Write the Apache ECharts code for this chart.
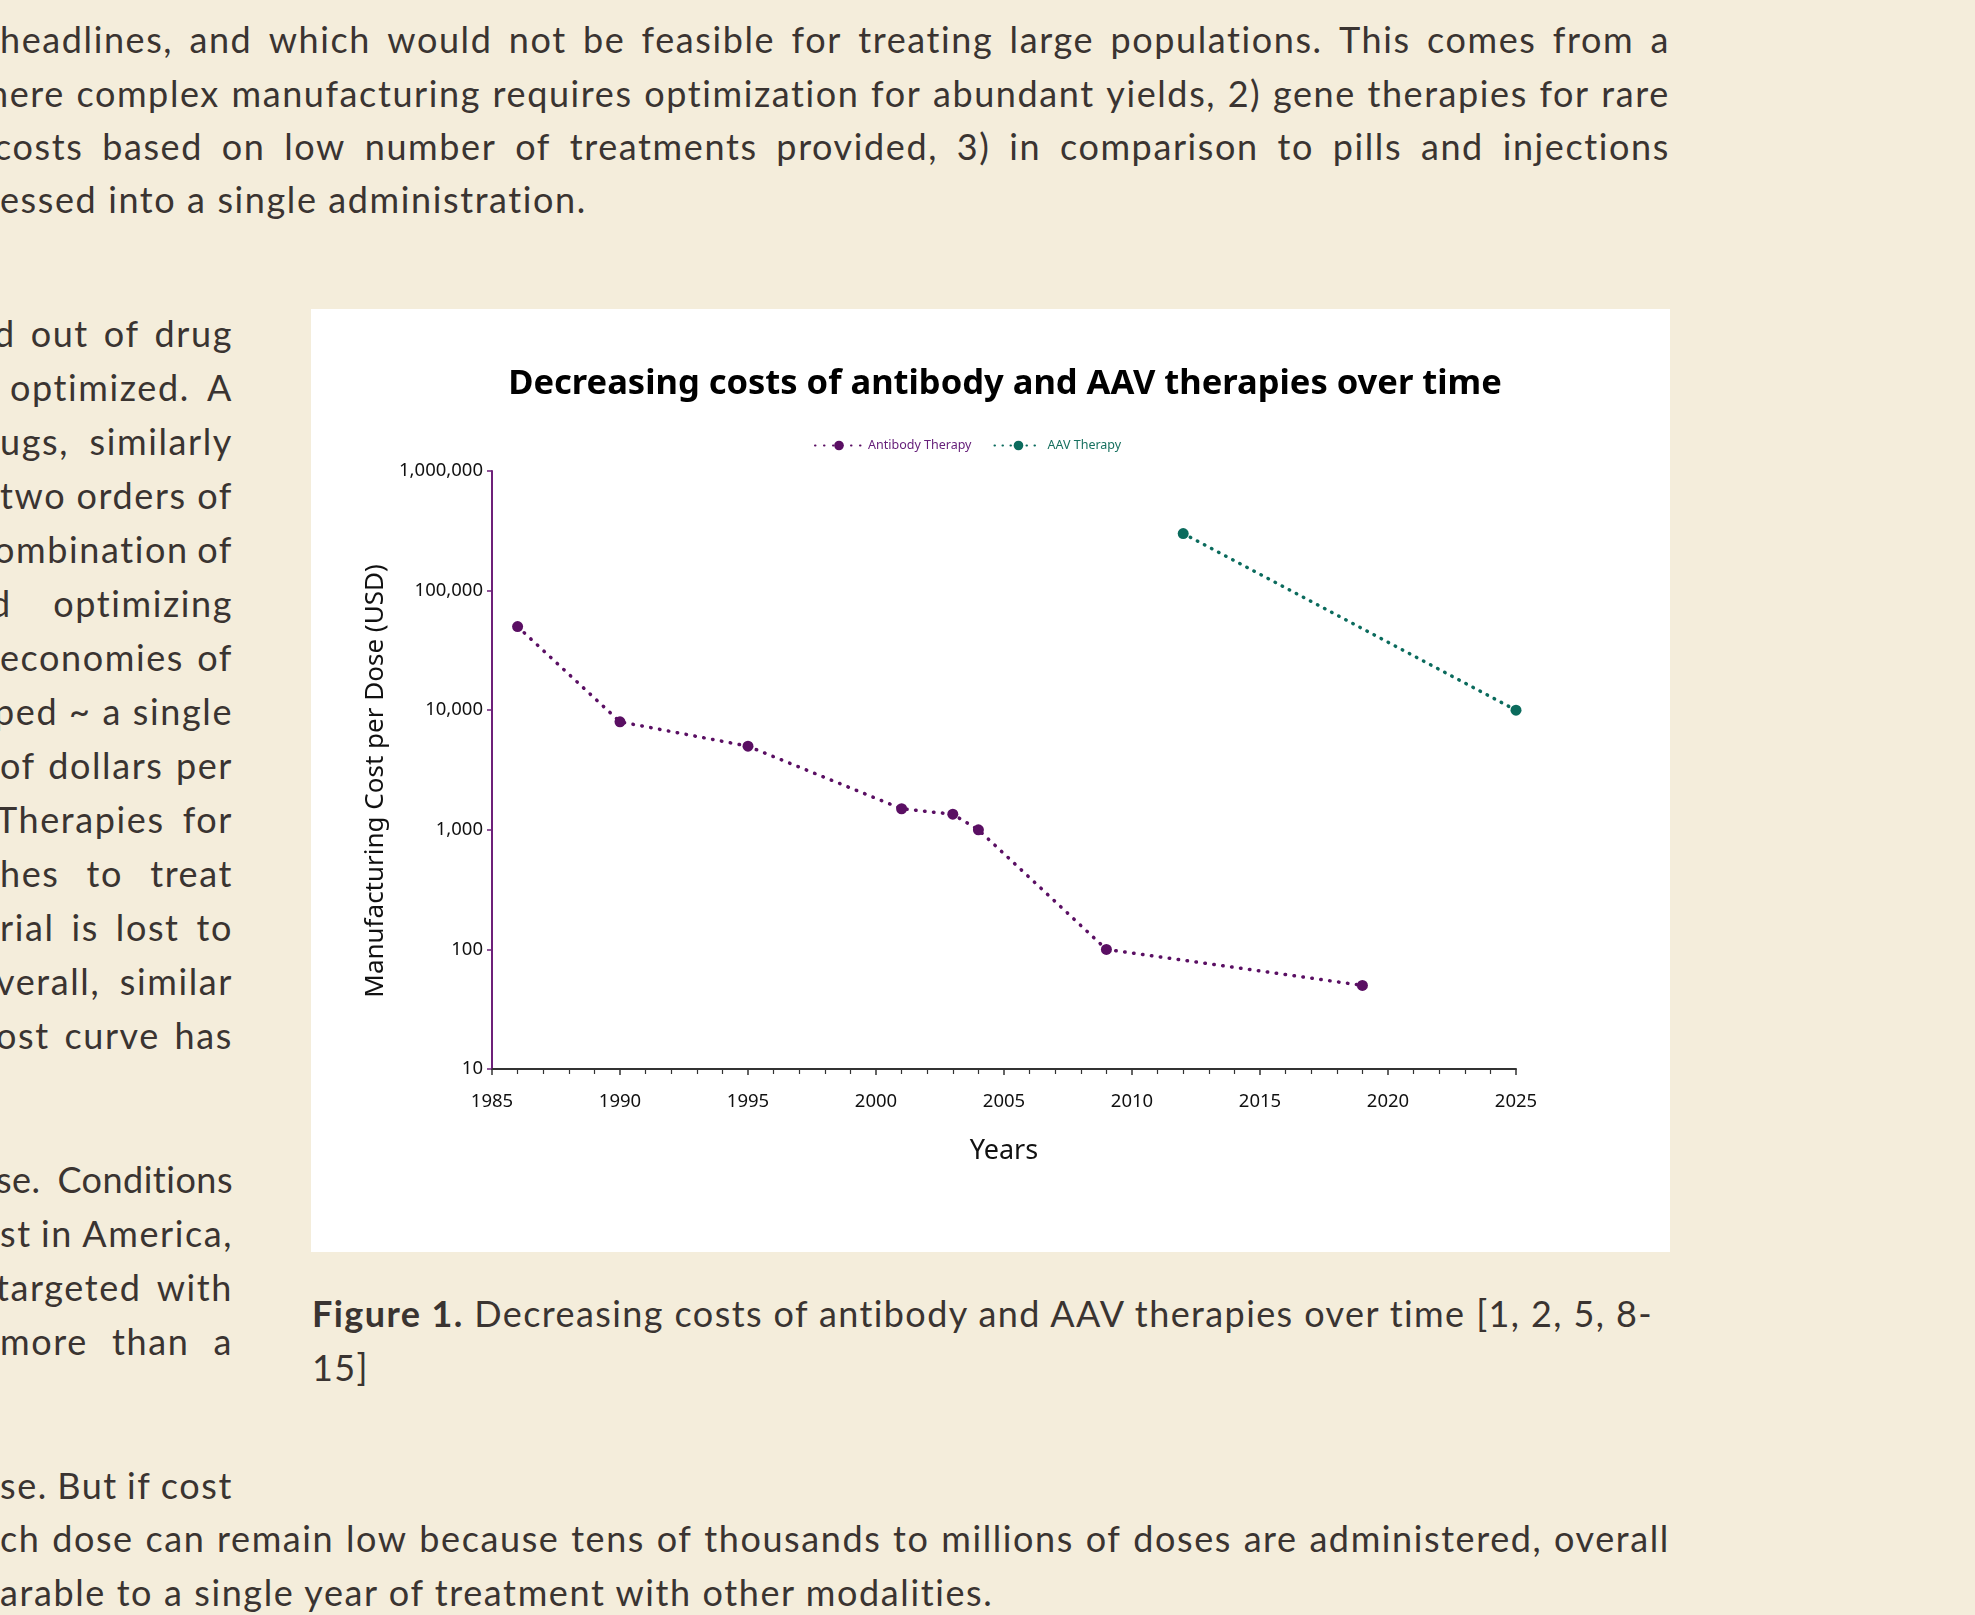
<!DOCTYPE html>
<html>
<head>
<meta charset="utf-8">
<script src="https://cdn.jsdelivr.net/npm/echarts@6/dist/echarts.min.js"></script>
<style>
  html, body { margin: 0; padding: 0; }
  body { width: 1975px; height: 1615px; background: #f4eddb; overflow: hidden; position: relative;
         font-family: Lato, "Noto Sans", sans-serif; color: #3a3431; }
  .ln { position: absolute; height: 54px; line-height: 54px; font-size: 36px; white-space: nowrap; letter-spacing: 1.6px; }
  .j { display: flex; justify-content: space-between; }
  .j span { flex: 0 0 auto; white-space: nowrap; }
  .cap { letter-spacing: 1.4px; }
  #chart { position: absolute; left: 311px; top: 309px; width: 1359px; height: 943px; background: #ffffff; }
</style>
</head>
<body>
<div class="ln j" style="left:0;width:1670px;top:12px">headlines, and which would not be feasible for treating large populations. This comes from a</div>
<div class="ln j" style="left:-12px;width:1682px;top:66px">here complex manufacturing requires optimization for abundant yields, 2) gene therapies for rare</div>
<div class="ln j" style="left:-6px;width:1676px;top:119px">costs based on low number of treatments provided, 3) in comparison to pills and injections</div>
<div class="ln" style="left:0;top:172px">essed into a single administration.</div>

<div class="ln j" style="left:-6px;width:239px;top:306px">d out of drug</div>
<div class="ln j" style="left:10px;width:223px;top:360px">optimized. A</div>
<div class="ln j" style="left:0;width:233px;top:414px">ugs, similarly</div>
<div class="ln j" style="left:0;width:233px;top:468px">two orders of</div>
<div class="ln j" style="left:-6px;width:239px;top:522px">ombination of</div>
<div class="ln j" style="left:-10px;width:243px;top:576px">d optimizing</div>
<div class="ln j" style="left:0;width:233px;top:630px">economies of</div>
<div class="ln j" style="left:-6px;width:239px;top:684px">ped ~ a single</div>
<div class="ln j" style="left:0;width:233px;top:738px">of dollars per</div>
<div class="ln j" style="left:-4px;width:237px;top:792px">Therapies for</div>
<div class="ln j" style="left:0;width:233px;top:846px">hes to treat</div>
<div class="ln j" style="left:0;width:233px;top:900px">rial is lost to</div>
<div class="ln j" style="left:-4px;width:237px;top:954px">verall, similar</div>
<div class="ln j" style="left:-4px;width:237px;top:1008px">ost curve has</div>

<div class="ln j" style="left:-4px;width:237px;top:1152px;letter-spacing:0.5px">se. Conditions</div>
<div class="ln j" style="left:0;width:233px;top:1206px">st in America,</div>
<div class="ln j" style="left:-4px;width:237px;top:1260px">targeted with</div>
<div class="ln j" style="left:0;width:233px;top:1314px">more than a</div>

<div class="ln j" style="left:0;width:233px;top:1458px">se. But if cost</div>
<div class="ln j" style="left:0;width:1670px;top:1511px">ch dose can remain low because tens of thousands to millions of doses are administered, overall</div>
<div class="ln" style="left:0;top:1565px">arable to a single year of treatment with other modalities.</div>

<div class="ln cap" style="left:312px;top:1286px"><b>Figure 1.</b> Decreasing costs of antibody and AAV therapies over time [1, 2, 5, 8-</div>
<div class="ln cap" style="left:312px;top:1340px">15]</div>

<div id="chart"></div>

<script>
// justify single page lines without wrapping
document.querySelectorAll('.j').forEach(el => {
  const words = el.textContent.trim().split(/\s+/);
  el.textContent = '';
  words.forEach(w => { const s = document.createElement('span'); s.textContent = w; el.appendChild(s); });
});

// ---- data ----
const antibodyYears = [1986, 1990, 1995, 2001, 2003, 2004, 2009, 2019];
const antibodyCost  = [50000, 8000, 5000, 1500, 1350, 1000, 100, 50];
const aavYears = [2012, 2025];
const aavCost  = [300000, 10000];
const seriesNames = ['Antibody Therapy', 'AAV Therapy'];
const chartTitle = 'Decreasing costs of antibody and AAV therapies over time';
const xAxisName = 'Years';
const yAxisName = 'Manufacturing Cost per Dose (USD)';

const purple = '#5a0f63';
const teal = '#0b6b5d';
const pair = (xs, ys) => xs.map((x, i) => [x, ys[i]]);

const chart = echarts.init(document.getElementById('chart'), null, { renderer: 'canvas' });
chart.setOption({
  backgroundColor: '#ffffff',
  animation: false,
  title: {
    text: chartTitle,
    left: 689,
    textAlign: 'center',
    top: 53,
    textStyle: { fontFamily: 'Noto Sans', fontWeight: 'bold', fontSize: 34.5, color: '#000000' }
  },
  legend: {
    left: 498,
    top: 125,
    itemWidth: 48,
    itemHeight: 12,
    itemGap: 22,
    textStyle: { fontFamily: 'Noto Sans', fontSize: 12.5 },
    data: [
      { name: seriesNames[0], textStyle: { color: '#66207a' } },
      { name: seriesNames[1], textStyle: { color: '#17705f' } }
    ]
  },
  grid: { left: 181, top: 162, width: 1024, height: 598, containLabel: false },
  xAxis: {
    type: 'value',
    min: 1985,
    max: 2025,
    interval: 5,
    name: xAxisName,
    nameLocation: 'middle',
    nameGap: 69,
    nameTextStyle: { fontFamily: 'Noto Sans', fontSize: 27, color: '#111111' },
    axisLine: { show: true, lineStyle: { color: '#333333', width: 2 } },
    axisTick: { show: true, length: 6, lineStyle: { color: '#333333', width: 1.5 } },
    minorTick: { show: true, splitNumber: 5, length: 5, lineStyle: { color: '#333333', width: 1.2 } },
    splitLine: { show: false },
    minorSplitLine: { show: false },
    axisLabel: { margin: 23, fontFamily: 'Noto Sans', fontSize: 18.5, color: '#111111',
                 formatter: v => String(v) }
  },
  yAxis: {
    type: 'log',
    logBase: 10,
    min: 10,
    max: 1000000,
    name: yAxisName,
    nameLocation: 'middle',
    nameGap: 93,
    nameRotate: 90,
    nameTextStyle: { fontFamily: 'Noto Sans', fontSize: 26, color: '#111111', padding: [0, 22, 0, 0] },
    axisLine: { show: true, lineStyle: { color: '#6d2079', width: 2 } },
    axisTick: { show: true, length: 5, lineStyle: { color: '#6d2079', width: 1.5 } },
    splitLine: { show: false },
    axisLabel: { margin: 9, fontFamily: 'Noto Sans', fontSize: 18.5, color: '#111111',
                 formatter: v => Number(v).toLocaleString('en-US') }
  },
  series: [
    {
      name: seriesNames[0],
      type: 'line',
      data: pair(antibodyYears, antibodyCost),
      symbol: 'circle',
      symbolSize: 11,
      itemStyle: { color: purple },
      lineStyle: { color: purple, width: 3.5, type: [0.5, 8.5], cap: 'round' }
    },
    {
      name: seriesNames[1],
      type: 'line',
      data: pair(aavYears, aavCost),
      symbol: 'circle',
      symbolSize: 11,
      itemStyle: { color: teal },
      lineStyle: { color: teal, width: 3.5, type: [0.5, 7.5], cap: 'round' }
    }
  ]
});
</script>
</body>
</html>
